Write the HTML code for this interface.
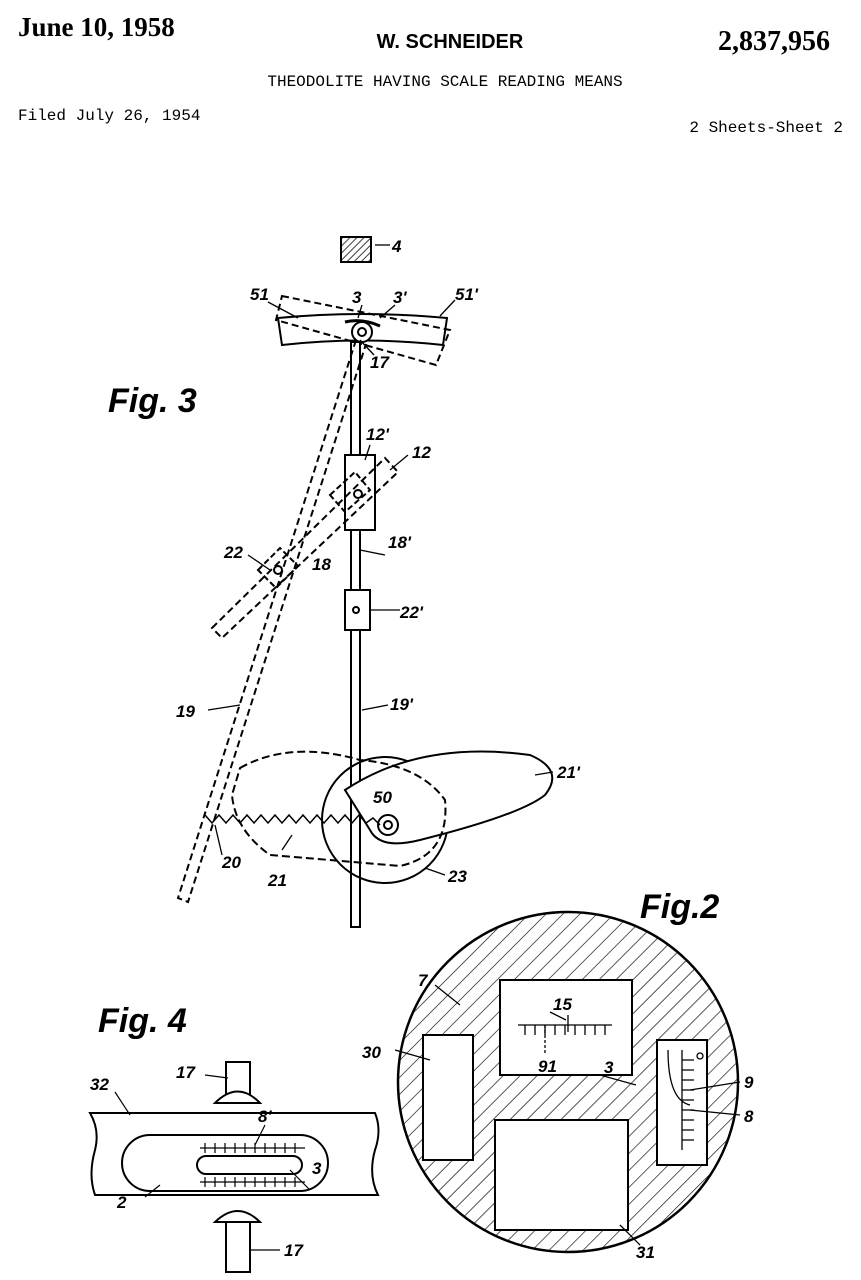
<!DOCTYPE html>
<html><head><meta charset="utf-8"><style>
html,body{margin:0;padding:0;background:#fff;}
svg{display:block}
.b{font-family:"Liberation Sans",sans-serif;font-weight:bold;}
.m{font-family:"Liberation Mono",monospace;}
.l{font-family:"Liberation Sans",sans-serif;font-weight:bold;font-style:italic;font-size:17px;}
.f{font-family:"Liberation Sans",sans-serif;font-weight:bold;font-style:italic;font-size:34px;}
</style></head><body>
<svg width="861" height="1280" viewBox="0 0 861 1280" xmlns="http://www.w3.org/2000/svg">
<defs>
<pattern id="h" width="12" height="12" patternUnits="userSpaceOnUse" patternTransform="rotate(45)">
<line x1="0" y1="0" x2="0" y2="12" stroke="#000" stroke-width="1.3"/></pattern>
<pattern id="h2" width="5" height="5" patternUnits="userSpaceOnUse" patternTransform="rotate(45)">
<line x1="0" y1="0" x2="0" y2="5" stroke="#000" stroke-width="1.5"/></pattern>
</defs>
<g fill="#000">
<text x="18" y="36" class="b" font-size="27" style="font-family:'Liberation Serif',serif">June 10, 1958</text>
<text x="450" y="48" class="b" font-size="20" text-anchor="middle">W. SCHNEIDER</text>
<text x="830" y="50" class="b" font-size="28" text-anchor="end" style="font-family:'Liberation Serif',serif">2,837,956</text>
<text x="445" y="86" class="m" font-size="16" text-anchor="middle">THEODOLITE HAVING SCALE READING MEANS</text>
<text x="18" y="120" class="m" font-size="16">Filed July 26, 1954</text>
<text x="843" y="132" class="m" font-size="16" text-anchor="end">2 Sheets-Sheet 2</text>
</g>
<g fill="none" stroke="#000" stroke-width="2">
<rect x="341" y="237" width="30" height="25" fill="url(#h2)"/>
<path d="M278 318 Q362 310 447 318 L443 345 Q362 336 282 345 Z" fill="#fff"/>
<path d="M282 296 L450 330 L436 365 L276 320 Z" stroke-dasharray="7,4"/>
<circle cx="362" cy="332" r="10" fill="#fff"/><circle cx="362" cy="332" r="4"/>
<path d="M345 322 Q362 318 380 326" stroke-width="3"/>
<rect x="351" y="342" width="9" height="585" fill="#fff"/>
<rect x="345" y="455" width="30" height="75" fill="#fff"/>
<circle cx="358" cy="494" r="4"/>
<rect x="345" y="590" width="25" height="40" fill="#fff"/>
<circle cx="356" cy="610" r="3"/>
<path d="M356 340 L178 898 L188 902 L366 344" stroke-dasharray="7,4"/>
<path d="M212 628 L385 458 L398 472 L222 638 Z" stroke-dasharray="7,4"/>
<path d="M258 570 L280 548 L298 566 L276 588 Z" stroke-dasharray="6,3"/>
<path d="M330 495 L355 472 L370 490 L345 512 Z" stroke-dasharray="6,3"/>
<circle cx="278" cy="570" r="4"/>
<circle cx="385" cy="820" r="63"/>
<path d="M345 790 Q420 740 530 755 Q565 770 545 795 Q520 815 420 840 Q380 850 370 830 Z" fill="#fff"/>
<path d="M240 768 Q290 740 360 760 Q420 765 445 800 Q450 855 400 866 Q330 860 270 855 Q235 830 232 795 Z" stroke-dasharray="8,4"/>
<circle cx="388" cy="825" r="10"/><circle cx="388" cy="825" r="4"/>
<polyline points="205,815 212,823 219,815 226,823 233,815 240,823 247,815 254,823 261,815 268,823 275,815 282,823 289,815 296,823 303,815 310,823 317,815 324,823 331,815 338,823 345,815 352,823 359,815 366,823 373,818 380,825" stroke-width="1.5"/>
<g stroke-width="1.3">
<line x1="268" y1="302" x2="298" y2="318"/><line x1="362" y1="305" x2="358" y2="318"/>
<line x1="395" y1="305" x2="380" y2="318"/><line x1="455" y1="300" x2="440" y2="316"/>
<line x1="374" y1="355" x2="360" y2="340"/><line x1="370" y1="445" x2="365" y2="460"/>
<line x1="408" y1="455" x2="390" y2="470"/><line x1="248" y1="555" x2="270" y2="570"/>
<line x1="375" y1="245" x2="390" y2="245"/><line x1="385" y1="555" x2="360" y2="550"/>
<line x1="400" y1="610" x2="370" y2="610"/><line x1="208" y1="710" x2="240" y2="705"/>
<line x1="388" y1="705" x2="362" y2="710"/><line x1="553" y1="772" x2="535" y2="775"/>
<line x1="282" y1="850" x2="292" y2="835"/><line x1="445" y1="875" x2="425" y2="868"/>
<line x1="222" y1="855" x2="215" y2="825"/>
</g>
<circle cx="568" cy="1082" r="170" fill="url(#h)" stroke-width="2.5"/>
<g fill="#fff">
<rect x="500" y="980" width="132" height="95"/>
<rect x="423" y="1035" width="50" height="125"/>
<rect x="495" y="1120" width="133" height="110"/>
<rect x="657" y="1040" width="50" height="125"/>
</g>
<g stroke-width="1.3">
<line x1="518" y1="1025" x2="612" y2="1025"/>
<path d="M525 1025v10M535 1025v10M545 1025v10M555 1025v10M565 1025v10M575 1025v10M585 1025v10M595 1025v10M605 1025v10"/>
<line x1="545" y1="1025" x2="545" y2="1055" stroke-dasharray="3,2"/>
<line x1="568" y1="1015" x2="568" y2="1032"/>
<line x1="682" y1="1050" x2="682" y2="1150"/>
<path d="M682 1060h12M682 1070h12M682 1080h12M682 1090h12M682 1100h12M682 1110h12M682 1120h12M682 1130h12M682 1140h12"/>
<path d="M668 1050 Q668 1100 690 1105"/><circle cx="700" cy="1056" r="3"/>
<line x1="435" y1="985" x2="460" y2="1005"/><line x1="600" y1="1075" x2="636" y2="1085"/>
<line x1="395" y1="1050" x2="430" y2="1060"/><line x1="740" y1="1082" x2="690" y2="1090"/>
<line x1="740" y1="1115" x2="690" y2="1110"/><line x1="640" y1="1245" x2="620" y2="1225"/>
<line x1="550" y1="1012" x2="566" y2="1020"/>
</g>
<path d="M90 1113 L375 1113 Q382 1130 375 1150 Q368 1175 378 1195 L95 1195 Q88 1175 95 1150 Q100 1130 90 1113 Z" fill="#fff"/>
<rect x="226" y="1062" width="24" height="40" fill="#fff"/>
<path d="M215 1103 Q238 1080 260 1103 Z" fill="#fff"/>
<rect x="226" y="1222" width="24" height="50" fill="#fff"/>
<path d="M215 1222 Q238 1200 260 1222 Z" fill="#fff"/>
<path d="M150 1135 L300 1135 A28 28 0 0 1 300 1191 L150 1191 A28 28 0 0 1 150 1135 Z"/>
<rect x="197" y="1156" width="105" height="18" rx="9"/>
<g stroke-width="1.2">
<line x1="200" y1="1148" x2="305" y2="1148"/><line x1="200" y1="1182" x2="305" y2="1182"/>
<path d="M205 1143v10M215 1143v10M225 1143v10M235 1143v10M245 1143v10M255 1143v10M265 1143v10M275 1143v10M285 1143v10M295 1143v10M205 1177v10M215 1177v10M225 1177v10M235 1177v10M245 1177v10M255 1177v10M265 1177v10M275 1177v10M285 1177v10M295 1177v10"/>
<line x1="205" y1="1075" x2="228" y2="1078"/><line x1="115" y1="1092" x2="130" y2="1115"/>
<line x1="265" y1="1125" x2="255" y2="1145"/><line x1="145" y1="1197" x2="160" y2="1185"/>
<line x1="310" y1="1190" x2="290" y2="1170"/><line x1="280" y1="1250" x2="250" y2="1250"/>
</g>
</g>
<g fill="#000">
<text x="108" y="412" class="f">Fig. 3</text>
<text x="640" y="918" class="f">Fig.2</text>
<text x="98" y="1032" class="f">Fig. 4</text>
<text x="392" y="252" class="l">4</text>
<text x="250" y="300" class="l">51</text>
<text x="352" y="303" class="l">3</text>
<text x="393" y="303" class="l">3'</text>
<text x="455" y="300" class="l">51'</text>
<text x="370" y="368" class="l">17</text>
<text x="366" y="440" class="l">12'</text>
<text x="412" y="458" class="l">12</text>
<text x="224" y="558" class="l">22</text>
<text x="312" y="570" class="l">18</text>
<text x="388" y="548" class="l">18'</text>
<text x="400" y="618" class="l">22'</text>
<text x="176" y="717" class="l">19</text>
<text x="390" y="710" class="l">19'</text>
<text x="557" y="778" class="l">21'</text>
<text x="373" y="803" class="l">50</text>
<text x="222" y="868" class="l">20</text>
<text x="268" y="886" class="l">21</text>
<text x="448" y="882" class="l">23</text>
<text x="418" y="986" class="l">7</text>
<text x="553" y="1010" class="l" font-size="15">15</text>
<text x="538" y="1072" class="l" font-size="11">91</text>
<text x="604" y="1073" class="l">3</text>
<text x="362" y="1058" class="l">30</text>
<text x="744" y="1088" class="l">9</text>
<text x="744" y="1122" class="l">8</text>
<text x="636" y="1258" class="l">31</text>
<text x="176" y="1078" class="l">17</text>
<text x="258" y="1122" class="l">8'</text>
<text x="90" y="1090" class="l">32</text>
<text x="312" y="1174" class="l">3</text>
<text x="117" y="1208" class="l">2</text>
<text x="284" y="1256" class="l">17</text>
</g>
</svg>
</body></html>
